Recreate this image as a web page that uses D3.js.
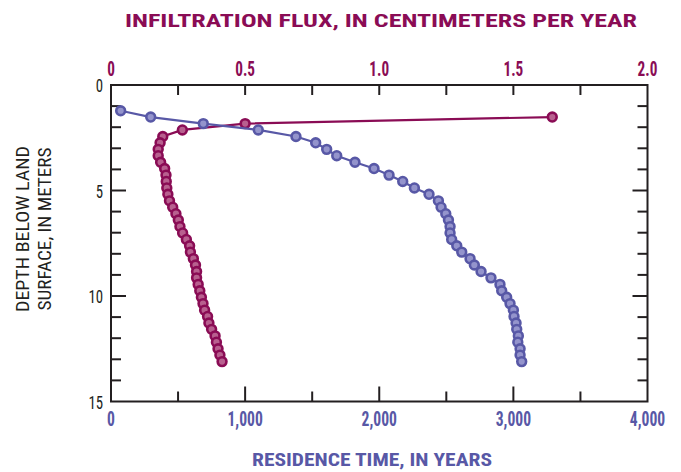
<!DOCTYPE html>
<html><head><meta charset="utf-8">
<script src="https://cdn.jsdelivr.net/npm/d3@7"></script>
<style>
body{margin:0;background:#fff;}
svg{display:block;}
text{font-family:"Liberation Sans Narrow","Roboto Condensed","DejaVu Sans Condensed","Arial Narrow","Liberation Sans",sans-serif;}
</style></head>
<body>
<script>
// Depths (meters) of sample points
const depthResidence = [1.22,1.52,1.83,2.13,2.44,2.74,3.05,3.35,3.66,3.96,4.27,4.57,4.88,5.18,5.49,5.79,6.10,6.40,6.71,7.01,7.32,7.62,7.92,8.23,8.53,8.84,9.14,9.45,9.75,10.06,10.36,10.67,10.97,11.28,11.58,11.89,12.19,12.50,12.80,13.11];
const residenceTime = [72,296,688,1098,1379,1526,1608,1683,1819,1961,2073,2175,2262,2371,2441,2461,2496,2516,2528,2528,2540,2578,2615,2677,2709,2759,2833,2900,2913,2950,2975,3000,3005,3020,3025,3037,3033,3050,3050,3062];
const depthFlux = [1.52,1.83,2.13,2.44,2.74,3.05,3.35,3.66,3.96,4.27,4.57,4.88,5.18,5.49,5.79,6.10,6.40,6.71,7.01,7.32,7.62,7.92,8.23,8.53,8.84,9.14,9.45,9.75,10.06,10.36,10.67,10.97,11.28,11.58,11.89,12.19,12.50,12.80,13.11];
const infiltrationFlux = [1.645,0.50,0.266,0.193,0.183,0.176,0.176,0.185,0.200,0.205,0.206,0.208,0.212,0.218,0.230,0.242,0.251,0.257,0.267,0.281,0.293,0.296,0.307,0.315,0.319,0.319,0.325,0.331,0.337,0.343,0.349,0.360,0.365,0.375,0.388,0.393,0.399,0.406,0.414];
const depthTicks = [0,5,10,15];
const timeTicks = [0,1000,2000,3000,4000];
const fluxTicks = [0,0.5,1.0,1.5,2.0];

const W=681,H=472;
const M={left:111,right:647.5,top:85,bottom:401.5};
const maroon="#8a0c55", maroonFill="#b8608f";
const blue="#5858a6", blueFill="#9494cc";
const axisCol="#231f20";

const svg=d3.select("body").append("svg").attr("width",W).attr("height",H);

const y=d3.scaleLinear().domain([0,15]).range([M.top,M.bottom]);
const xT=d3.scaleLinear().domain([0,4000]).range([M.left,M.right]);
const xF=d3.scaleLinear().domain([0,2]).range([M.left,M.right]);

// frame
svg.append("rect").attr("x",M.left).attr("y",M.top).attr("width",M.right-M.left).attr("height",M.bottom-M.top)
  .attr("fill","none").attr("stroke",axisCol).attr("stroke-width",2);

const g=svg.append("g");
d3.range(1,15).forEach(d=>{
  const len = d%5===0?15:10;
  g.append("line").attr("x1",M.left).attr("x2",M.left+len).attr("y1",y(d)).attr("y2",y(d)).attr("stroke",axisCol).attr("stroke-width",2);
  g.append("line").attr("x1",M.right).attr("x2",M.right-len).attr("y1",y(d)).attr("y2",y(d)).attr("stroke",axisCol).attr("stroke-width",2);
});
d3.range(500,4000,500).forEach(v=>{
  const len = v%1000===0?15:10;
  g.append("line").attr("x1",xT(v)).attr("x2",xT(v)).attr("y1",M.bottom).attr("y2",M.bottom-len).attr("stroke",axisCol).attr("stroke-width",2);
});
d3.range(0.25,2,0.25).forEach(v=>{
  g.append("line").attr("x1",xF(v)).attr("x2",xF(v)).attr("y1",M.top).attr("y2",M.top+10).attr("stroke",axisCol).attr("stroke-width",2);
});

// tick labels (condensed via horizontal scale)
const SX=0.78;
svg.selectAll(".yl").data(depthTicks).enter().append("text")
  .attr("transform",d=>`translate(103,${y(d)+7}) scale(${SX},1)`).attr("text-anchor","end")
  .attr("font-size",19).attr("fill",axisCol).text(d=>d);
svg.selectAll(".bl").data(timeTicks).enter().append("text")
  .attr("transform",d=>`translate(${xT(d)},426) scale(${SX},1)`).attr("text-anchor","middle")
  .attr("font-size",20).attr("font-weight","bold").attr("fill",blue).text(d=>d3.format(",")(d));
svg.selectAll(".tl").data(fluxTicks).enter().append("text")
  .attr("transform",d=>`translate(${xF(d)},76) scale(${SX},1)`).attr("text-anchor","middle")
  .attr("font-size",19.5).attr("font-weight","bold").attr("fill",maroon).text(d=>d3.format(".1f")(d).replace(/^0\.0$/,"0"));

// titles
svg.append("text").attr("x",381).attr("y",27).attr("text-anchor","middle")
  .attr("font-size",19).attr("font-weight","bold").attr("fill",maroon)
  .attr("textLength",512).attr("lengthAdjust","spacingAndGlyphs")
  .text("INFILTRATION FLUX, IN CENTIMETERS PER YEAR");
svg.append("text").attr("x",372).attr("y",466).attr("text-anchor","middle")
  .attr("font-size",18.5).attr("font-weight","bold").attr("fill",blue)
  .attr("textLength",240).attr("lengthAdjust","spacingAndGlyphs")
  .text("RESIDENCE TIME, IN YEARS");
svg.append("text").attr("transform","translate(29,229) rotate(-90)").attr("text-anchor","middle")
  .attr("font-size",19).attr("fill",axisCol)
  .attr("textLength",166).attr("lengthAdjust","spacingAndGlyphs")
  .text("DEPTH BELOW LAND");
svg.append("text").attr("transform","translate(51,229) rotate(-90)").attr("text-anchor","middle")
  .attr("font-size",19).attr("fill",axisCol)
  .attr("textLength",163).attr("lengthAdjust","spacingAndGlyphs")
  .text("SURFACE, IN METERS");

// series
const fluxData = depthFlux.map((d,i)=>({d, v:infiltrationFlux[i]}));
const timeData = depthResidence.map((d,i)=>({d, v:residenceTime[i]}));

function drawSeries(data, xs, col, fill){
  svg.append("path").datum(data)
    .attr("d", d3.line().x(p=>xs(p.v)).y(p=>y(p.d)))
    .attr("fill","none").attr("stroke",col).attr("stroke-width",2.2);
  svg.append("g").selectAll("circle").data(data).enter().append("circle")
    .attr("cx",p=>xs(p.v)).attr("cy",p=>y(p.d)).attr("r",4.4)
    .attr("fill",fill).attr("stroke",col).attr("stroke-width",2.6);
}
drawSeries(fluxData, xF, maroon, maroonFill);
drawSeries(timeData, xT, blue, blueFill);
</script>
</body></html>
